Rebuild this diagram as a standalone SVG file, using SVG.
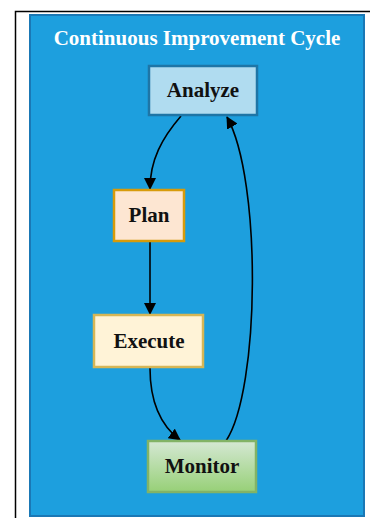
<svg xmlns="http://www.w3.org/2000/svg" width="370" height="518" viewBox="0 0 370 518">
  <defs>
    <linearGradient id="gGreen" x1="0" y1="0" x2="0" y2="1">
      <stop offset="0" stop-color="#d5e8d4"/>
      <stop offset="1" stop-color="#97d077"/>
    </linearGradient>
    <marker id="arr" markerWidth="12" markerHeight="12" refX="11" refY="6" orient="auto" markerUnits="userSpaceOnUse">
      <path d="M0,0 L12,6 L0,12 Z" fill="#000"/>
    </marker>
    <style>
      .lbl { font-family: "Liberation Serif", "Times New Roman", serif; font-weight: bold; font-size: 21px; fill: #111; text-anchor: middle; }
      .edge { fill: none; stroke: #000; stroke-width: 1.6; marker-end: url(#arr); }
      .box { stroke-width: 2.5; }
    </style>
  </defs>
  <rect x="0" y="0" width="370" height="518" fill="#fff"/>
  <rect x="15.5" y="11.5" width="360" height="520" fill="#fff" stroke="#000" stroke-width="1.5"/>
  <g id="container">
    <rect x="30" y="15" width="334" height="501" fill="#1d9fde" stroke="#1a78b5" stroke-width="2"/>
    <text x="197" y="45" font-family="Liberation Serif, 'Times New Roman', serif" font-weight="bold" font-size="21" fill="#fff" text-anchor="middle">Continuous Improvement Cycle</text>
  </g>
  <g id="connectors">
    <path class="edge" d="M181,116 C162,138 150,160 150,189"/>
    <path class="edge" d="M150,241 L150,314"/>
    <path class="edge" d="M150,368 C150,400 160,425 180,440"/>
    <path class="edge" d="M226,441 C260,390 262,180 227,117"/>
  </g>
  <g id="analyze">
    <rect class="box" x="149" y="66" width="108" height="49" fill="#b0dcf0" stroke="#1e75a6"/>
    <text class="lbl" x="203" y="97">Analyze</text>
  </g>
  <g id="plan">
    <rect class="box" x="114" y="190" width="70" height="51" fill="#fde6d2" stroke="#d79b0a"/>
    <text class="lbl" x="149" y="222">Plan</text>
  </g>
  <g id="execute">
    <rect class="box" x="94" y="315" width="109" height="52" fill="#fff3d7" stroke="#d6b656"/>
    <text class="lbl" x="149" y="348">Execute</text>
  </g>
  <g id="monitor">
    <rect class="box" x="148" y="441" width="108" height="51" fill="url(#gGreen)" stroke="#82b366"/>
    <text class="lbl" x="202" y="473">Monitor</text>
  </g>
</svg>
